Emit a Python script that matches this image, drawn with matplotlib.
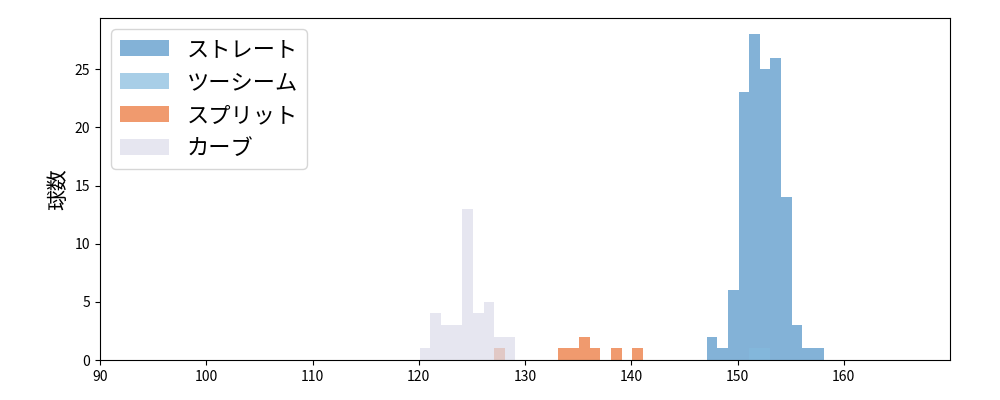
import matplotlib
matplotlib.use("Agg")
import matplotlib.pyplot as plt
import numpy as np

plt.rcParams['font.family'] = ['Noto Sans CJK JP', 'DejaVu Sans']

names = ['ストレート', 'ツーシーム', 'スプリット', 'カーブ']
colors = ['#4f92c7', '#83bade', '#ea6f30', '#dcdceb']

# bin start (km/h) and counts per 1 km/h bin
straight_start = [147.1, 148.1, 149.1, 150.1, 151.1, 152.1, 153.1, 154.1, 155.1, 156.1, 157.1]
straight_cnt = [2, 1, 6, 23, 28, 25, 26, 14, 3, 1, 1]
twoseam_start = [151.1, 152.1]
twoseam_cnt = [1, 1]
split_start = [127.1, 133.1, 134.1, 135.1, 136.1, 138.1, 140.1]
split_cnt = [1, 1, 1, 2, 1, 1, 1]
curve_start = [120.1, 121.1, 122.1, 123.1, 124.1, 125.1, 126.1, 127.1, 128.1]
curve_cnt = [1, 4, 3, 3, 13, 4, 5, 2, 2]

fig, ax = plt.subplots(figsize=(10, 4), dpi=100)
series = [(straight_start, straight_cnt), (twoseam_start, twoseam_cnt),
          (split_start, split_cnt), (curve_start, curve_cnt)]
for (s, c), name, col in zip(series, names, colors):
    s = np.array(s)
    ax.hist(s + 0.5, bins=np.arange(s.min(), s.max() + 1.01, 1.0),
            weights=c, color=col, alpha=0.7, label=name)

ax.set_xlim(90, 170)
ax.set_xticks(range(90, 170, 10))
ax.set_ylabel('球数', fontsize=15)
ax.legend(loc='upper left', fontsize=16, labelspacing=0.45, handlelength=2.2)
fig.subplots_adjust(left=0.1, right=0.95, top=0.955, bottom=0.1)
fig.savefig('out.png')
